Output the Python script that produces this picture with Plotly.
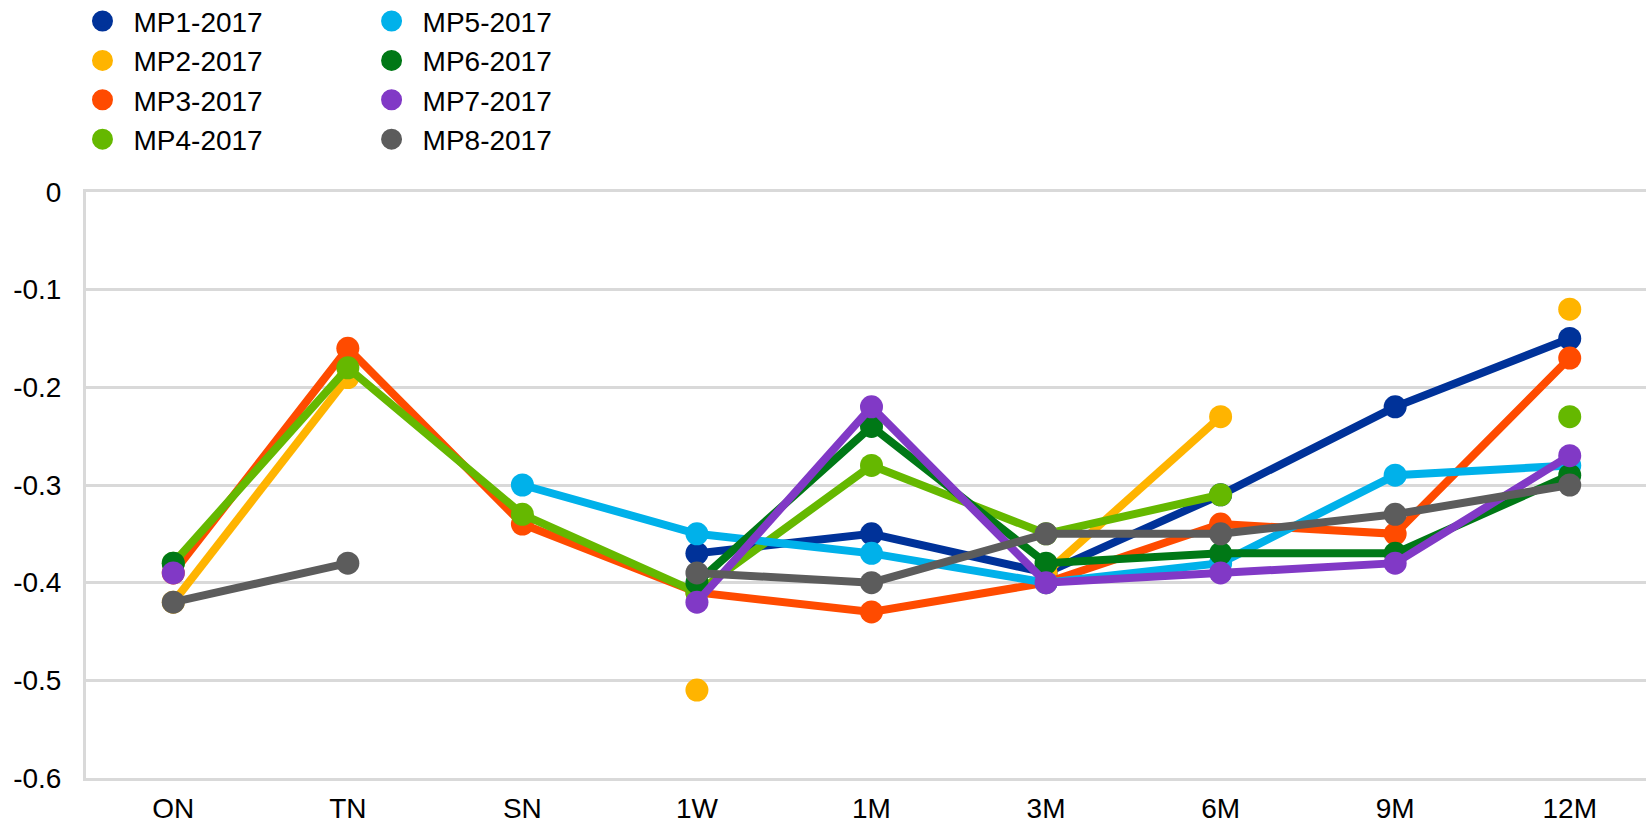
import plotly.graph_objects as go

categories = ["ON", "TN", "SN", "1W", "1M", "3M", "6M", "9M", "12M"]

mp1 = [None, None, None, -0.37, -0.35, -0.39, -0.31, -0.22, -0.15]
mp2 = [-0.42, -0.19, None, -0.51, None, -0.39, -0.23, None, -0.12]
mp3 = [-0.39, -0.16, -0.34, -0.41, -0.43, -0.40, -0.34, -0.35, -0.17]
mp4 = [-0.38, -0.18, -0.33, -0.41, -0.28, -0.35, -0.31, None, -0.23]
mp5 = [None, None, -0.30, -0.35, -0.37, -0.40, -0.38, -0.29, -0.28]
mp6 = [-0.38, None, None, -0.40, -0.24, -0.38, -0.37, -0.37, -0.29]
mp7 = [-0.39, None, None, -0.42, -0.22, -0.40, -0.39, -0.38, -0.27]
mp8 = [-0.42, -0.38, None, -0.39, -0.40, -0.35, -0.35, -0.33, -0.30]

series_names = ["MP1-2017", "MP2-2017", "MP3-2017", "MP4-2017",
                "MP5-2017", "MP6-2017", "MP7-2017", "MP8-2017"]
series_values = [mp1, mp2, mp3, mp4, mp5, mp6, mp7, mp8]
colors = ["#003299", "#FFB400", "#FF4B00", "#65B800",
          "#00B1EA", "#007816", "#8139C6", "#5C5C5C"]

y_tickvals = [0, -0.1, -0.2, -0.3, -0.4, -0.5, -0.6]
y_ticktext = ["0", "-0.1", "-0.2", "-0.3", "-0.4", "-0.5", "-0.6"]

FONT = "Arial, Liberation Sans, sans-serif"
FS = 28

fig = go.Figure()
for name, vals, col in zip(series_names, series_values, colors):
    fig.add_trace(go.Scatter(
        x=categories, y=vals, mode="lines+markers", name=name,
        line=dict(color=col, width=8),
        marker=dict(color=col, size=23),
        connectgaps=False, showlegend=False,
    ))

# legend entries (circles only), split into two columns
for i, (name, col) in enumerate(zip(series_names, colors)):
    fig.add_trace(go.Scatter(
        x=[None], y=[None], mode="markers", name=name,
        marker=dict(color=col, size=16, line=dict(color=col, width=5)),
        legend="legend" if i < 4 else "legend2",
    ))

legend_common = dict(
    font=dict(family=FONT, size=FS, color="#000000"),
    bgcolor="rgba(0,0,0,0)", borderwidth=0,
    itemwidth=52, tracegroupgap=0,
    xanchor="left", yanchor="top", orientation="v",
)

fig.update_layout(
    width=1646, height=823,
    margin=dict(l=86, r=0, t=192, b=45, autoexpand=False),
    paper_bgcolor="white", plot_bgcolor="white",
    font=dict(family=FONT, size=FS, color="#000000"),
    legend=dict(x=-0.0093, y=1.334, **legend_common),
    legend2=dict(x=0.176, y=1.334, **legend_common),
    xaxis=dict(
        type="category", categoryorder="array", categoryarray=categories,
        range=[-0.5, 8.437], showgrid=False, zeroline=False,
        showline=True, mirror=True, linecolor="#D9D9D9", linewidth=3,
        ticks="", ticklabelstandoff=3,
        tickfont=dict(family=FONT, size=FS, color="#000000"),
    ),
    yaxis=dict(
        range=[-0.6, 0], tickvals=y_tickvals, ticktext=y_ticktext,
        showgrid=True, gridcolor="#D9D9D9", gridwidth=3,
        zeroline=False, showline=True, linecolor="#D9D9D9", linewidth=3,
        ticks="", ticklabelstandoff=16,
        tickfont=dict(family=FONT, size=FS, color="#000000"),
    ),
)

fig.write_html(
    "out.html",
    config={"displayModeBar": False},
    post_script="document.body.style.margin='0';document.body.style.overflow='hidden';",
)
